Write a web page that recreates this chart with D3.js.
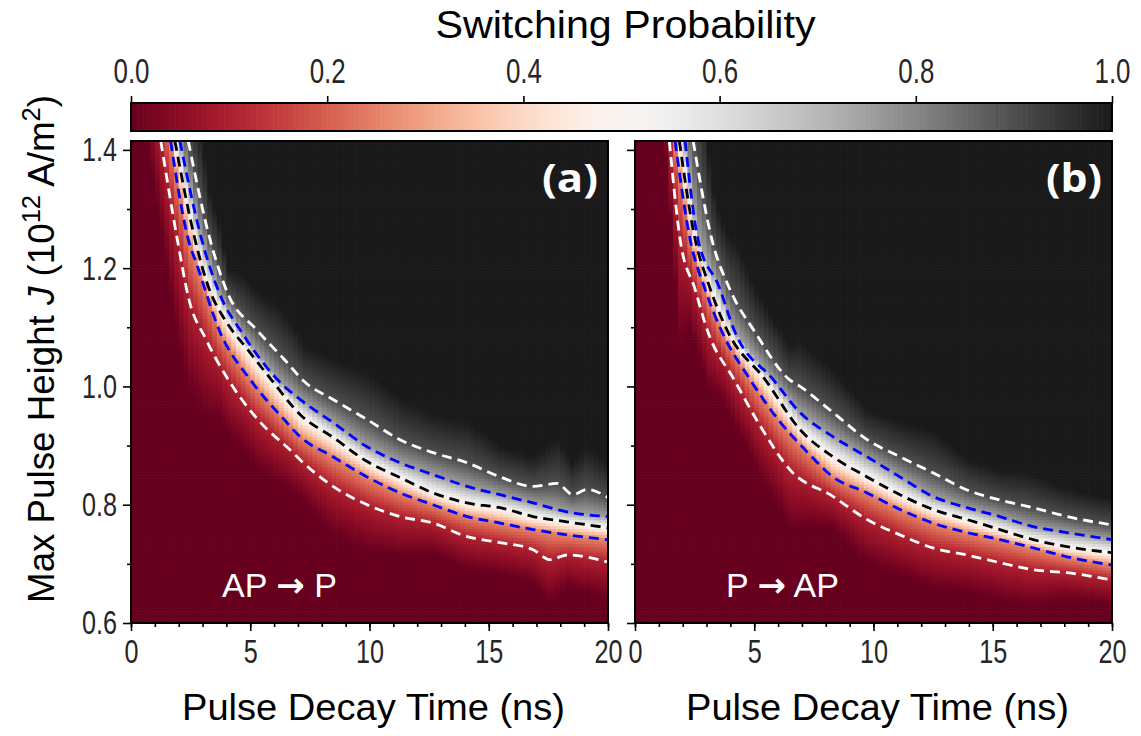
<!DOCTYPE html>
<html>
<head>
<meta charset="utf-8">
<script src="https://cdn.jsdelivr.net/npm/d3@7"></script>
<style>
body { margin: 0; background: #fff; }
text { font-family: "Liberation Sans", Arial, sans-serif; }
</style>
</head>
<body>
<svg id="chart" width="1141" height="736"></svg>
<script>
// --------------------------------------
// Data
// --------------------------------------

// probability levels of the dashed contours and their colours
var levels = [0.1, 0.25, 0.5, 0.75, 0.9];
var levelColors = ["#ffffff", "#0000ff", "#000000", "#0000ff", "#ffffff"];

// panel (a) AP -> P : contour points [decay time (ns), J (1e12 A/m^2)]
var contourA10 = [[1.25,1.415],[1.94,1.249],[2.43,1.147],[3.14,1.080],[4.07,1.012],[5.32,0.944],[6.79,0.888],[7.09,0.876],[8.47,0.831],[9.90,0.800],[11.28,0.780],[12.66,0.769],[14.09,0.746],[15.47,0.736],[16.86,0.724],[17.57,0.707],[18.28,0.715],[20,0.703]];
var contourA25 = [[1.66,1.415],[2.40,1.249],[2.77,1.205],[3.73,1.092],[4.99,1.012],[6.42,0.944],[7.09,0.915],[8.47,0.881],[9.90,0.847],[11.28,0.820],[12.66,0.800],[14.09,0.780],[15.47,0.769],[16.86,0.758],[18.28,0.749],[20,0.741]];
var contourA50 = [[1.84,1.415],[2.68,1.249],[3.14,1.181],[4.15,1.100],[4.78,1.068],[5.87,1.012],[7.13,0.951],[8.47,0.914],[9.90,0.873],[11.28,0.846],[12.66,0.820],[14.09,0.803],[15.47,0.795],[16.86,0.780],[18.28,0.771],[20,0.761]];
var contourA75 = [[2.05,1.415],[2.96,1.249],[3.69,1.159],[4.70,1.088],[6.25,1.007],[7.09,0.978],[8.47,0.939],[9.90,0.898],[11.28,0.871],[12.66,0.851],[14.09,0.831],[15.47,0.817],[16.86,0.803],[18.28,0.788],[20,0.780]];
var contourA90 = [[2.40,1.415],[3.31,1.249],[4.07,1.156],[5.24,1.097],[6.42,1.046],[7.30,1.007],[8.47,0.978],[9.90,0.944],[11.28,0.910],[12.66,0.888],[14.09,0.871],[15.47,0.847],[16.86,0.831],[17.86,0.836],[18.53,0.817],[19.12,0.826],[20,0.812]];

// panel (b) P -> AP
var contourB10 = [[1.44,1.415],[1.89,1.249],[2.52,1.164],[3.06,1.092],[4.15,1.012],[5.24,0.934],[6.50,0.859],[8.30,0.814],[9.73,0.775],[11.11,0.749],[12.49,0.727],[13.92,0.715],[15.30,0.702],[16.69,0.690],[18.11,0.685],[20,0.673]];
var contourB25 = [[1.68,1.415],[2.31,1.249],[2.94,1.164],[3.65,1.092],[4.82,1.012],[6.00,0.944],[7.13,0.893],[8.30,0.847],[9.73,0.820],[11.11,0.792],[12.49,0.769],[13.92,0.753],[15.30,0.741],[16.69,0.727],[18.11,0.712],[20,0.698]];
var contourB50 = [[1.86,1.415],[2.52,1.249],[3.06,1.176],[3.90,1.092],[5.45,1.012],[6.92,0.927],[8.30,0.881],[9.73,0.847],[11.11,0.817],[12.49,0.792],[13.92,0.775],[15.30,0.758],[16.69,0.741],[18.11,0.729],[20,0.719]];
var contourB75 = [[2.10,1.415],[2.64,1.249],[3.52,1.169],[4.19,1.092],[5.79,1.012],[6.92,0.956],[8.30,0.915],[9.73,0.881],[11.11,0.847],[12.49,0.814],[13.92,0.795],[15.30,0.780],[16.69,0.763],[18.11,0.753],[20,0.741]];
var contourB90 = [[2.44,1.415],[3.22,1.249],[3.98,1.164],[5.03,1.092],[6.46,1.012],[6.92,1.000],[8.30,0.956],[9.73,0.910],[11.11,0.881],[12.49,0.854],[13.92,0.825],[15.30,0.808],[16.69,0.795],[17.53,0.786],[18.11,0.780],[20,0.766]];

var panelNames = ["(a)", "(b)"];
var panelFrom = ["AP", "P"];
var panelTo = ["P", "AP"];

// axes
var xTicks = [0, 5, 10, 15, 20];
var xMinorTicks = d3.range(0, 21, 1);
var yTicks = [0.6, 0.8, 1.0, 1.2, 1.4];
var yMinorTicks = [0.7, 0.9, 1.1, 1.3];
var cbTicks = [0, 0.2, 0.4, 0.6, 0.8, 1.0];

// --------------------------------------
// Layout
// --------------------------------------
var svg = d3.select("#chart");
var plotTop = 141, plotBottom = 623, plotWidth = 477;
var panelLefts = [131, 635];
var xDomain = [0, 20], yDomain = [0.6, 1.415];
var tStep = 0.2, jStep = 0.005;

var color = d3.interpolateRdGy;

var y = d3.scaleLinear().domain(yDomain).range([plotBottom, plotTop]);

var panels = [
    {contours: [contourA10, contourA25, contourA50, contourA75, contourA90]},
    {contours: [contourB10, contourB25, contourB50, contourB75, contourB90]}
];

// squeeze text horizontally, the figure uses a condensed face
function condense(sel, f) {
    sel.each(function() {
        var w = this.getComputedTextLength();
        if (w > 0) {
            d3.select(this).attr("textLength", w * f).attr("lengthAdjust", "spacingAndGlyphs");
        }
    });
}

function fitWidth(sel, w) {
    sel.attr("textLength", w).attr("lengthAdjust", "spacingAndGlyphs");
}

function styleAxis(g, size) {
    g.select(".domain").remove();
    g.selectAll(".tick line").attr("stroke", "#000").attr("stroke-width", 1.6);
    g.selectAll(".tick text")
        .attr("fill", "#262626")
        .style("font-size", size + "px");
    condense(g.selectAll(".tick text"), 0.74);
}

panels.forEach(function(panel, k) {
    var left = panelLefts[k];
    var x = d3.scaleLinear().domain(xDomain).range([left, left + plotWidth]);
    var g = svg.append("g");

    var clipId = "clip" + k;
    svg.append("clipPath").attr("id", clipId)
        .append("rect")
        .attr("x", left).attr("y", plotTop)
        .attr("width", plotWidth).attr("height", plotBottom - plotTop);

    // build heat map cells column by column from the contour levels
    var levelFns = panel.contours.map(function(pts) {
        return d3.scaleLinear().domain(pts.map(function(d) { return d[0]; }))
            .range(pts.map(function(d) { return d[1]; }));
    });
    var cells = [];
    d3.range(xDomain[0], xDomain[1], tStep).forEach(function(t) {
        var tc = t + tStep / 2;
        var js = levelFns.map(function(f) { return f(tc); });
        for (var i = 1; i < js.length; i++) {
            if (js[i] <= js[i - 1]) js[i] = js[i - 1] + 1e-4;
        }
        var lo = js[0] - 1.6 * (js[1] - js[0]);
        var hi = js[4] + 1.8 * (js[4] - js[3]);
        var p = d3.scaleLinear()
            .domain([lo].concat(js, [hi]))
            .range([0].concat(levels, [1]))
            .clamp(true);
        d3.range(yDomain[0], yDomain[1], jStep).forEach(function(j) {
            cells.push({t: t, j: j, p: p(j + jStep / 2)});
        });
    });

    g.append("g").attr("clip-path", "url(#" + clipId + ")")
        .selectAll("rect").data(cells).enter().append("rect")
        .attr("x", function(d) { return x(d.t); })
        .attr("y", function(d) { return y(d.j + jStep); })
        .attr("width", x(tStep) - x(0) + 0.7)
        .attr("height", y(0.6) - y(0.6 + jStep) + 0.7)
        .attr("fill", function(d) { return color(d.p); });

    // dashed contours
    var line = d3.line()
        .curve(d3.curveMonotoneX)
        .x(function(d) { return x(d[0]); })
        .y(function(d) { return y(d[1]); });

    g.append("g").attr("clip-path", "url(#" + clipId + ")")
        .selectAll("path").data(panel.contours).enter().append("path")
        .attr("d", line)
        .attr("fill", "none")
        .attr("stroke", function(d, i) { return levelColors[i]; })
        .attr("stroke-width", 2.8)
        .attr("stroke-dasharray", "10,6");

    // frame
    g.append("rect")
        .attr("x", left).attr("y", plotTop)
        .attr("width", plotWidth).attr("height", plotBottom - plotTop)
        .attr("fill", "none").attr("stroke", "#000").attr("stroke-width", 2);

    // axes
    var gx = g.append("g").attr("transform", "translate(0," + plotBottom + ")")
        .call(d3.axisBottom(x).tickValues(xTicks).tickSize(8).tickPadding(8)
            .tickFormat(d3.format("d")));
    styleAxis(gx, 34);
    var gxm = g.append("g").attr("transform", "translate(0," + plotBottom + ")")
        .call(d3.axisBottom(x).tickValues(xMinorTicks).tickSize(4).tickFormat(""));
    styleAxis(gxm, 0);

    var gy = g.append("g").attr("transform", "translate(" + left + ",0)")
        .call(d3.axisLeft(y).tickValues(yTicks).tickSize(8).tickPadding(6)
            .tickFormat(k === 0 ? d3.format(".1f") : function() { return ""; }));
    styleAxis(gy, 34);
    var gym = g.append("g").attr("transform", "translate(" + left + ",0)")
        .call(d3.axisLeft(y).tickValues(yMinorTicks).tickSize(4).tickFormat(""));
    styleAxis(gym, 0);

    // x label
    g.append("text")
        .attr("x", left + plotWidth / 2 + 4).attr("y", 720)
        .attr("text-anchor", "middle")
        .style("font-size", "37px")
        .text("Pulse Decay Time (ns)")
        .call(fitWidth, 383);

    // panel tag and transition label
    g.append("text")
        .attr("x", left + plotWidth - 10).attr("y", 192)
        .attr("text-anchor", "end")
        .attr("fill", "#fff")
        .style("font-size", "40px").style("font-weight", "bold")
        .style("font-family", "'Open Sans', sans-serif")
        .text(panelNames[k])
        .call(fitWidth, 56);

    var tr = g.append("text")
        .attr("x", left + 91).attr("y", 597)
        .attr("fill", "#fff")
        .style("font-size", "34px");
    tr.append("tspan").text(panelFrom[k] + " ");
    tr.append("tspan")
        .style("font-family", "'DejaVu Sans', sans-serif")
        .style("font-weight", "bold")
        .text("\u2192");
    tr.append("tspan").text(" " + panelTo[k]);
});

// y label
var ylg = svg.append("g").attr("transform", "translate(54,349) rotate(-90)");
var yl = ylg.append("text")
    .attr("text-anchor", "middle")
    .style("font-size", "36px");
yl.append("tspan").text("Max Pulse Height ");
yl.append("tspan").style("font-style", "italic").text("J");
yl.append("tspan").text(" (10");
yl.append("tspan").attr("dy", -14).style("font-size", "25px").text("12");
yl.append("tspan").attr("dy", 14).text(" A/m");
yl.append("tspan").attr("dy", -14).style("font-size", "25px").text("2");
yl.append("tspan").attr("dy", 14).text(")");
var ylw = yl.node().getBBox().width;
yl.attr("transform", "scale(" + (508 / ylw) + ",1)");

// --------------------------------------
// Colour bar
// --------------------------------------
var cbTop = 103, cbBottom = 131;
var cbx = d3.scaleLinear().domain([0, 1]).range([131, 1112]);
var cbValues = d3.range(0, 1, 0.0025);

svg.append("g").selectAll("rect").data(cbValues).enter().append("rect")
    .attr("x", function(d) { return cbx(d); })
    .attr("y", cbTop)
    .attr("width", cbx(0.0025) - cbx(0) + 0.6)
    .attr("height", cbBottom - cbTop)
    .attr("fill", function(d) { return color(d + 0.00125); });

svg.append("rect")
    .attr("x", cbx(0)).attr("y", cbTop)
    .attr("width", cbx(1) - cbx(0)).attr("height", cbBottom - cbTop)
    .attr("fill", "none").attr("stroke", "#000").attr("stroke-width", 2);

var gcb = svg.append("g").attr("transform", "translate(0," + cbTop + ")")
    .call(d3.axisTop(cbx).tickValues(cbTicks).tickSize(7).tickPadding(13)
        .tickFormat(d3.format(".1f")));
styleAxis(gcb, 35);

svg.append("text")
    .attr("x", (cbx(0) + cbx(1)) / 2 + 4).attr("y", 38)
    .attr("text-anchor", "middle")
    .style("font-size", "38px")
    .text("Switching Probability")
    .call(fitWidth, 380);
</script>
</body>
</html>
